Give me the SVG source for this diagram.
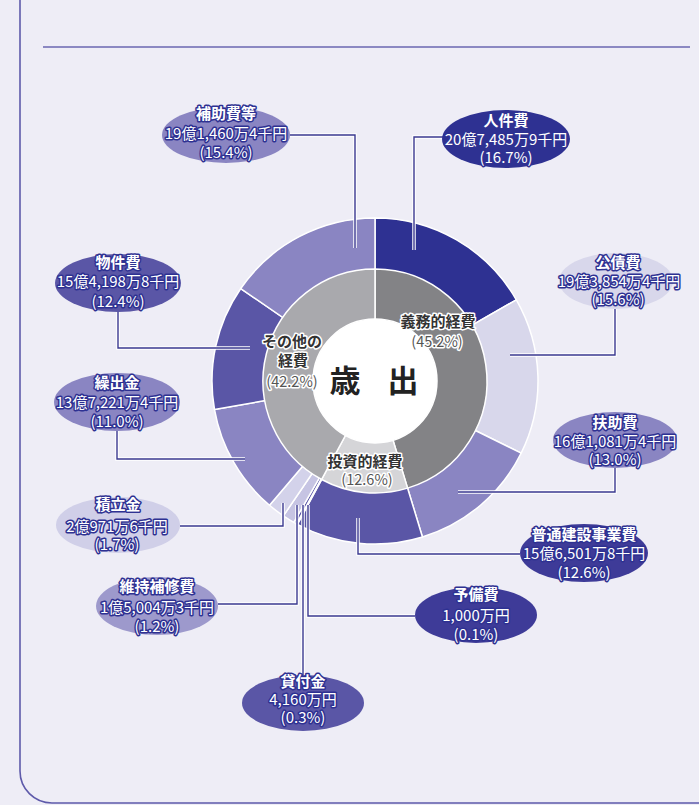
<svg xmlns="http://www.w3.org/2000/svg" width="699" height="805" viewBox="0 0 699 805">
<style>
text{font-family:"Noto Sans CJK JP","Noto Sans",sans-serif;text-anchor:middle;paint-order:stroke;stroke-linejoin:round}
.nm{font-size:15px;font-weight:bold;fill:#fff;stroke:#2e3192;stroke-width:3}
.vl{font-size:15px;fill:#fff;stroke:#2e3192;stroke-width:3}
.cl{font-size:15px;font-weight:bold;fill:#333;stroke:#fff;stroke-width:3}
.cp{font-size:14.5px;fill:#555;stroke:#fff;stroke-width:3}
.big{font-size:31px;font-weight:bold;fill:#222}
.seg{stroke:#fff;stroke-width:1.5;stroke-linejoin:round}
.halo{fill:none;stroke:#fff;stroke-width:3.5}
.ln{fill:none;stroke:#3a3890;stroke-width:1.4}
</style>
<rect x="0" y="0" width="699" height="805" fill="#eeedf6"/>
<path d="M20 0 V771 A32 32 0 0 0 52 803 H699" fill="none" stroke="#5e5aaa" stroke-width="1.6"/>
<line x1="43" y1="47" x2="690" y2="47" stroke="#6a66b0" stroke-width="1.6"/>

<g id="outer-ring">
<path class="seg" fill="#2e3192" d="M375 381 L375 218 A163 163 0 0 1 516.34 299.79 Z"/>
<path class="seg" fill="#d8d7eb" d="M375 381 L516.34 299.79 A163 163 0 0 1 521.16 453.16 Z"/>
<path class="seg" fill="#8a85c2" d="M375 381 L521.16 453.16 A163 163 0 0 1 422.43 536.94 Z"/>
<path class="seg" fill="#5a56a6" d="M375 381 L422.43 536.94 A163 163 0 0 1 297.36 524.33 Z"/>
<path class="seg" fill="#3e3b98" d="M375 381 L297.36 524.33 A163 163 0 0 1 296.47 523.84 Z"/>
<path class="seg" fill="#5a56a6" d="M375 381 L296.47 523.84 A163 163 0 0 1 293.79 522.34 Z"/>
<path class="seg" fill="#c6c4e3" d="M375 381 L293.79 522.34 A163 163 0 0 1 283.38 515.82 Z"/>
<path class="seg" fill="#d3d2ea" d="M375 381 L283.38 515.82 A163 163 0 0 1 269.52 505.29 Z"/>
<path class="seg" fill="#8a85c2" d="M375 381 L269.52 505.29 A163 163 0 0 1 214.51 409.53 Z"/>
<path class="seg" fill="#5a56a6" d="M375 381 L214.51 409.53 A163 163 0 0 1 240.75 288.55 Z"/>
<path class="seg" fill="#8a85c2" d="M375 381 L240.75 288.55 A163 163 0 0 1 375 218 Z"/>
</g>
<g id="inner-ring">
<path class="seg" fill="#838386" d="M375 381 L375 269 A112 112 0 0 1 407.59 488.15 Z"/>
<path class="seg" fill="#d5d5d8" d="M375 381 L407.59 488.15 A112 112 0 0 1 321.65 479.48 Z"/>
<path class="seg" fill="#a9a9ad" d="M375 381 L321.65 479.48 A112 112 0 0 1 375 269 Z"/>
<circle cx="375" cy="381" r="62" fill="#fff" stroke="#fff" stroke-width="1.5"/>
</g>
<g id="center">
<text class="big" x="345" y="392">歳</text>
<text class="big" x="403" y="392">出</text>
<text class="cl" x="438" y="327">義務的経費</text>
<text class="cp" x="437" y="347">(45.2%)</text>
<text class="cl" x="292" y="347">その他の</text>
<text class="cl" x="293" y="366">経費</text>
<text class="cp" x="292" y="387">(42.2%)</text>
<text class="cl" x="365" y="467">投資的経費</text>
<text class="cp" x="367" y="485">(12.6%)</text>
</g>

<g id="connectors">
<polyline class="halo" points="290,135 355,135 355,248"/>
<polyline class="ln" points="290,135 355,135 355,248"/>
<polyline class="halo" points="443,137 414,137 414,250"/>
<polyline class="ln" points="443,137 414,137 414,250"/>
<polyline class="halo" points="118,312 118,348 250,348"/>
<polyline class="ln" points="118,312 118,348 250,348"/>
<polyline class="halo" points="615,309 615,355 510,355"/>
<polyline class="ln" points="615,309 615,355 510,355"/>
<polyline class="halo" points="117,431 117,459 245,459"/>
<polyline class="ln" points="117,431 117,459 245,459"/>
<polyline class="halo" points="615,468 615,492 458,492"/>
<polyline class="ln" points="615,468 615,492 458,492"/>
<polyline class="halo" points="180,526 283,526 283,503"/>
<polyline class="ln" points="180,526 283,526 283,503"/>
<polyline class="halo" points="520,554 358,554 358,518"/>
<polyline class="ln" points="520,554 358,554 358,518"/>
<polyline class="halo" points="218,604 297,604 297,505"/>
<polyline class="ln" points="218,604 297,604 297,505"/>
<polyline class="halo" points="415,616 308,616 308,505"/>
<polyline class="ln" points="415,616 308,616 308,505"/>
<polyline class="halo" points="303,675 303,505"/>
<polyline class="ln" points="303,675 303,505"/>
</g>

<g id="hojohi">
<ellipse cx="226" cy="135" rx="64" ry="28" fill="#8a85c2"/>
<text class="nm" x="226" y="119">補助費等</text>
<text class="vl" x="226" y="139">19億1,460万4千円</text>
<text class="vl" x="226" y="158">(15.4%)</text>
</g>
<g id="jinkenhi">
<ellipse cx="506" cy="139" rx="64" ry="29" fill="#2e3192"/>
<text class="nm" x="506" y="126">人件費</text>
<text class="vl" x="506" y="145">20億7,485万9千円</text>
<text class="vl" x="506" y="163">(16.7%)</text>
</g>
<g id="bukkenhi">
<ellipse cx="118" cy="283" rx="63" ry="29" fill="#5a56a6"/>
<text class="nm" x="118" y="268">物件費</text>
<text class="vl" x="118" y="287">15億4,198万8千円</text>
<text class="vl" x="118" y="307">(12.4%)</text>
</g>
<g id="kosaihi">
<ellipse cx="616" cy="281" rx="57" ry="28" fill="#d8d7eb"/>
<text class="nm" x="618" y="268">公債費</text>
<text class="vl" x="619" y="287">19億3,854万4千円</text>
<text class="vl" x="618" y="305">(15.6%)</text>
</g>
<g id="kuridashikin">
<ellipse cx="117" cy="402" rx="63" ry="29" fill="#8a85c2"/>
<text class="nm" x="117" y="388">繰出金</text>
<text class="vl" x="117" y="408">13億7,221万4千円</text>
<text class="vl" x="117" y="427">(11.0%)</text>
</g>
<g id="fujohi">
<ellipse cx="615" cy="440" rx="62" ry="28" fill="#8a85c2"/>
<text class="nm" x="615" y="428">扶助費</text>
<text class="vl" x="615" y="447">16億1,081万4千円</text>
<text class="vl" x="615" y="465">(13.0%)</text>
</g>
<g id="tsumitatekin">
<ellipse cx="118" cy="525" rx="62" ry="28" fill="#d0cfe8"/>
<text class="nm" x="118" y="510">積立金</text>
<text class="vl" x="117" y="532">2億971万6千円</text>
<text class="vl" x="117" y="550">(1.7%)</text>
</g>
<g id="futsukensetsu">
<ellipse cx="584" cy="553" rx="64" ry="29" fill="#3e3b98"/>
<text class="nm" x="584" y="540">普通建設事業費</text>
<text class="vl" x="584" y="559">15億6,501万8千円</text>
<text class="vl" x="584" y="578">(12.6%)</text>
</g>
<g id="ijihoshuhi">
<ellipse cx="157" cy="606" rx="61" ry="29" fill="#9d99cc"/>
<text class="nm" x="157" y="592">維持補修費</text>
<text class="vl" x="157" y="613">1億5,004万3千円</text>
<text class="vl" x="157" y="632">(1.2%)</text>
</g>
<g id="yobihi">
<ellipse cx="476" cy="615" rx="61" ry="28" fill="#3e3b98"/>
<text class="nm" x="476" y="600">予備費</text>
<text class="vl" x="476" y="621">1,000万円</text>
<text class="vl" x="476" y="640">(0.1%)</text>
</g>
<g id="kashitsukekin">
<ellipse cx="303" cy="703" rx="61" ry="28" fill="#5a56a6"/>
<text class="nm" x="303" y="687">貸付金</text>
<text class="vl" x="303" y="705">4,160万円</text>
<text class="vl" x="303" y="723">(0.3%)</text>
</g>
</svg>
